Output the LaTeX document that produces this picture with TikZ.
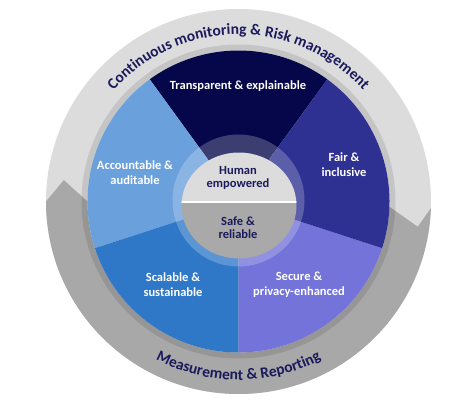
\documentclass[tikz,border=0pt]{standalone}
\usepackage{fontspec}
\setmainfont{Carlito}
\usetikzlibrary{calc,decorations.text}
\definecolor{navyc}{HTML}{06074A}
\definecolor{fairc}{HTML}{2E3192}
\definecolor{securec}{HTML}{7373D9}
\definecolor{scalc}{HTML}{2F78C8}
\definecolor{accc}{HTML}{6AA0DC}
\definecolor{ringlight}{HTML}{DCDCDC}
\definecolor{ringdark}{HTML}{A8A8A8}
\definecolor{ctrlight}{HTML}{DCDCDC}
\definecolor{ctrdark}{HTML}{A9A9A9}
\definecolor{ringtext}{HTML}{1A1A5C}
\begin{document}
\begin{tikzpicture}[x=1pt,y=1pt,
  segtext/.style={text=white, font=\bfseries\fontsize{12.5}{15}\selectfont, align=center},
  ctrtext/.style={text=ringtext, font=\bfseries\fontsize{12.5}{13}\selectfont, align=center}]
\useasboundingbox (0,0) rectangle (471,400);
\coordinate (C) at (238.5,198.5);
% outer ring
\fill[ringlight] (C) circle[radius=192.5pt];
\fill[ringdark] ($(C)+(-2:192.5pt)$) arc[start angle=-2, end angle=-180, radius=192.5pt]
  -- ($(C)+(173:176pt)$) -- ($(C)+(180:151pt)$)
  arc[start angle=180, end angle=358, radius=151pt]
  -- ($(C)+(-8:181pt)$) -- cycle;
% shadow around pie
\fill[black, opacity=0.10, even odd rule] (C) circle[radius=157pt] (C) circle[radius=151pt];
% sectors
\fill[navyc]   (C) -- ($(C)+(54:151pt)$)  arc[start angle=54,  end angle=126, radius=151pt] -- cycle;
\fill[accc]    (C) -- ($(C)+(126:151pt)$) arc[start angle=126, end angle=198, radius=151pt] -- cycle;
\fill[scalc]   (C) -- ($(C)+(198:151pt)$) arc[start angle=198, end angle=270, radius=151pt] -- cycle;
\fill[securec] (C) -- ($(C)+(270:151pt)$) arc[start angle=270, end angle=342, radius=151pt] -- cycle;
\fill[fairc]   (C) -- ($(C)+(342:151pt)$) arc[start angle=342, end angle=414, radius=151pt] -- cycle;
% halo
\fill[white, opacity=0.22] (238.5,199.5) circle[radius=66pt];
% centre disc
\begin{scope}
  \clip (239,194.5) ellipse[x radius=57.5pt, y radius=53pt];
  \fill[ctrdark] (170,130) rectangle (310,198);
  \fill[ctrlight] (170,198) rectangle (310,260);
  \draw[white, line width=1.2pt] (170,198) -- (310,198);
\end{scope}
% ring texts
\path[decorate, decoration={text along path, text align=center, text color=ringtext,
  text={|\bfseries\fontsize{15.5}{15.5}\selectfont|Continuous monitoring {\&} Risk management}}]
  ($(C)+(150:167pt)$) arc[start angle=150, end angle=30, radius=167pt];
\path[decorate, decoration={text along path, text align=center, text color=ringtext,
  text={|\bfseries\fontsize{15.5}{15.5}\selectfont|Measurement {\&} Reporting}}]
  ($(C)+(210:178.5pt)$) arc[start angle=210, end angle=330, radius=178.5pt];
% sector texts
\node[segtext] (tr) at (238,314) {Transparent \& explainable};
\node[segtext] (ac) at (135,227.5) {Accountable \&\\auditable};
\node[segtext] (fa) at (344,235.5) {Fair \&\\inclusive};
\node[segtext] (sc) at (173,115.5) {Scalable \&\\sustainable};
\node[segtext] (se) at (299,115.5) {Secure \&\\privacy-enhanced};
\node[ctrtext] (hu) at (238,222.5) {Human\\empowered};
\node[ctrtext] (sa) at (238,172.5) {Safe \&\\reliable};
\end{tikzpicture}
\end{document}
